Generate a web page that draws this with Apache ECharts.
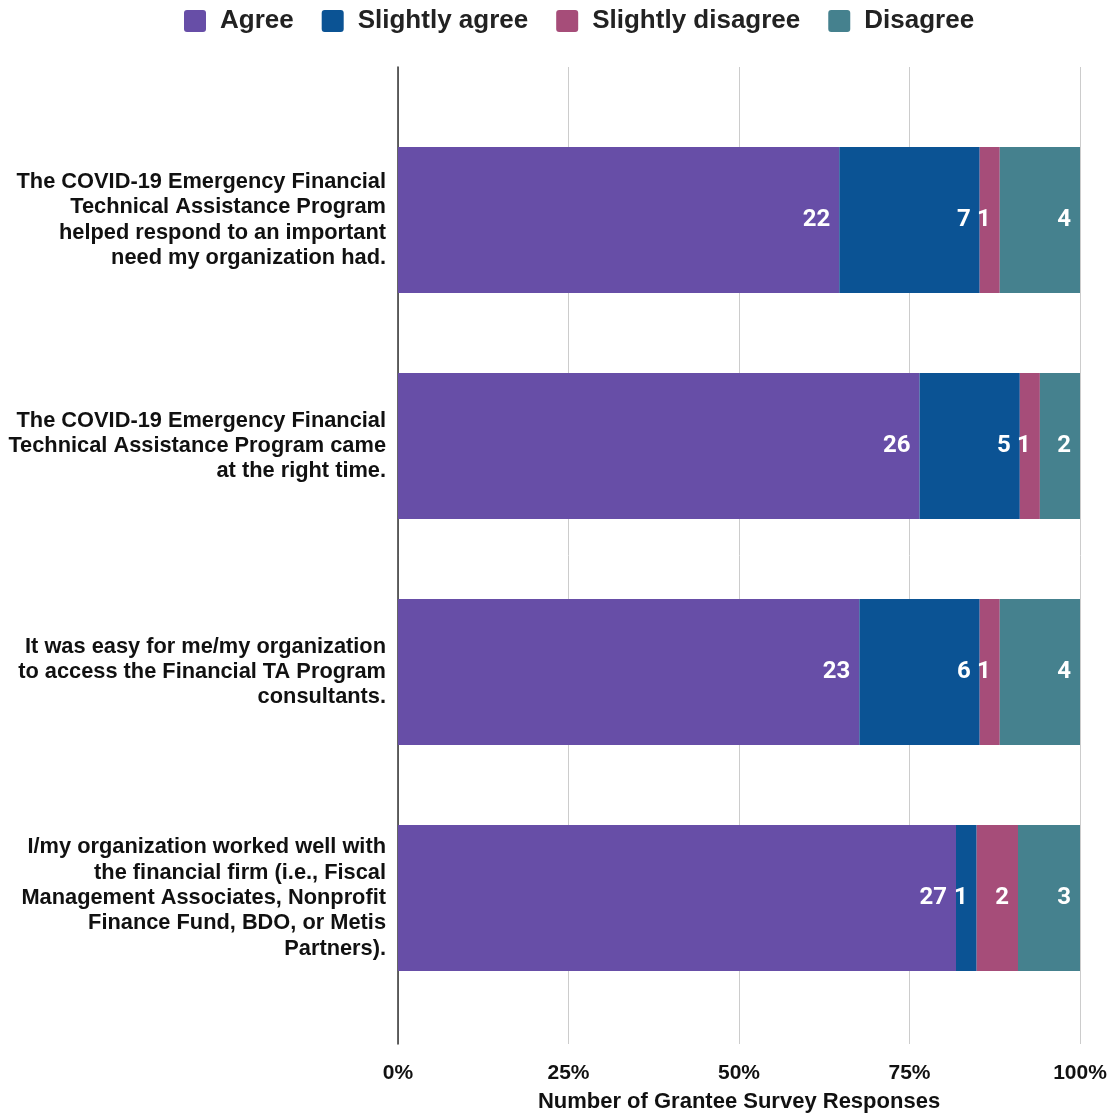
<!DOCTYPE html>
<html><head><meta charset="utf-8">
<script src="https://cdn.jsdelivr.net/npm/echarts@6/dist/echarts.min.js"></script>
<style>html,body{margin:0;padding:0;background:#fff}#c{width:1113px;height:1118px}</style>
</head><body><div id="c"></div>
<script>
const categories = [
  "The COVID-19 Emergency Financial\nTechnical Assistance Program\nhelped respond to an important\nneed my organization had.",
  "The COVID-19 Emergency Financial\nTechnical Assistance Program came\nat the right time.",
  "It was easy for me/my organization\nto access the Financial TA Program\nconsultants.",
  "I/my organization worked well with\nthe financial firm (i.e., Fiscal\nManagement Associates, Nonprofit\nFinance Fund, BDO, or Metis\nPartners)."
];
const seriesNames = ["Agree", "Slightly agree", "Slightly disagree", "Disagree"];
const agree = [22, 26, 23, 27];
const slightlyAgree = [7, 5, 6, 1];
const slightlyDisagree = [1, 1, 1, 2];
const disagree = [4, 2, 4, 3];
const tickLabels = ["0%", "25%", "50%", "75%", "100%"];
const colors = ["#674ea7", "#0b5394", "#a64d79", "#45818e"];

const all = [agree, slightlyAgree, slightlyDisagree, disagree];
const totals = categories.map((_, i) => all.reduce((s, a) => s + a[i], 0));
const sans = '"Liberation Sans", Arial';

const chart = echarts.init(document.getElementById('c'));
chart.setOption({
  animation: false,
  textStyle: { fontFamily: 'Roboto' },
  legend: {
    top: 3, left: 179,
    itemWidth: 22, itemHeight: 22, itemGap: 28,
    icon: 'path://M3,0 H19 Q22,0 22,3 V19 Q22,22 19,22 H3 Q0,22 0,19 V3 Q0,0 3,0 Z',
    textStyle: { fontFamily: sans, fontWeight: 'bold', fontSize: 26, color: '#222', padding: [0, 0, 0, 9] },
    data: seriesNames
  },
  grid: [
    { left: 398, right: 33, top: 67, bottom: 66, containLabel: false },
    { left: 398, right: 33, top: 107, bottom: 107, containLabel: false }
  ],
  xAxis: [{
    gridIndex: 0, type: 'value', min: 0, max: 100, interval: 25,
    name: 'Number of Grantee Survey Responses', nameLocation: 'middle', nameGap: 47,
    nameTextStyle: { fontFamily: sans, fontWeight: 'bold', fontSize: 22, color: '#111' },
    axisLine: { show: false }, axisTick: { show: false },
    axisLabel: { formatter: v => tickLabels[v / 25], margin: 19, fontFamily: sans, fontWeight: 'bold', fontSize: 21, color: '#111' },
    splitLine: { show: true, lineStyle: { color: '#cccccc', width: 1 } }
  }, {
    gridIndex: 1, type: 'value', min: 0, max: 100, show: false
  }],
  yAxis: [{
    gridIndex: 0, type: 'value', min: 0, max: 1,
    axisLine: { show: true, lineStyle: { color: '#333', width: 1.5 } },
    axisTick: { show: false }, axisLabel: { show: false }, splitLine: { show: false }
  }, {
    gridIndex: 1, type: 'category', inverse: true, data: categories,
    axisLine: { show: false },
    axisTick: { show: false },
    axisLabel: { margin: 12, align: 'right', fontFamily: sans, fontWeight: 'bold', fontSize: 21.8, lineHeight: 25.4, color: '#111' }
  }],
  series: all.map((arr, k) => ({
    name: seriesNames[k], type: 'bar', stack: 'total', barWidth: 146,
    xAxisIndex: 1, yAxisIndex: 1,
    itemStyle: { color: colors[k] },
    data: arr.map((v, i) => ({ value: v / totals[i] * 100, raw: v })),
    label: {
      show: true, position: 'insideRight', distance: 9,
      formatter: p => p.data.raw,
      color: '#fff', fontFamily: 'Roboto', fontWeight: 'bold', fontSize: 24
    }
  }))
});
</script></body></html>
